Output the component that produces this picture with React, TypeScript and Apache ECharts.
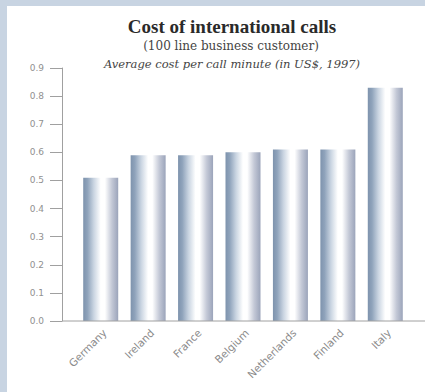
import React, { useEffect, useRef } from "react";
import * as echarts from "echarts";

const categories = ["Germany", "Ireland", "France", "Belgium", "Netherlands", "Finland", "Italy"];
const costs = [0.51, 0.59, 0.59, 0.6, 0.61, 0.61, 0.83];
const titleText = "Cost of international calls";
const subtitleText = "(100 line business customer)";
const noteText = "Average cost per call minute (in US$, 1997)";

export default function App() {
  const ref = useRef<HTMLDivElement>(null);
  useEffect(() => {
    const chart = echarts.init(ref.current!, null, { renderer: "svg" });
    const barGradient = new echarts.graphic.LinearGradient(0, 0, 1, 0, [
      { offset: 0, color: "#7e93ad" },
      { offset: 0.12, color: "#8fa3bb" },
      { offset: 0.3, color: "#c9d4e1" },
      { offset: 0.5, color: "#ffffff" },
      { offset: 0.62, color: "#ffffff" },
      { offset: 0.82, color: "#c3c8d6" },
      { offset: 1, color: "#9ba4ba" },
    ]);
    chart.setOption({
      animation: false,
      backgroundColor: "#c8d4e2",
      grid: { left: 77, right: 16, top: 68, bottom: 71 },
      graphic: [
        { type: "rect", z: -10, silent: true, shape: { x: 7, y: 6, width: 425, height: 392 }, style: { fill: "#ffffff" } },
        { type: "text", x: 232, y: 26, style: { text: titleText, fontFamily: "Liberation Serif", fontWeight: "bold", fontSize: 19, fill: "#2a2a2a", align: "center", verticalAlign: "middle" } },
        { type: "text", x: 231, y: 46, style: { text: subtitleText, fontFamily: "DejaVu Serif", fontSize: 12, fill: "#444", align: "center", verticalAlign: "middle" } },
        { type: "text", x: 232, y: 64, style: { text: noteText, fontFamily: "DejaVu Serif", fontStyle: "italic", fontSize: 11.5, fill: "#444", align: "center", verticalAlign: "middle" } },
        { type: "line", z: 10, shape: { x1: 62, y1: 321, x2: 425, y2: 321 }, style: { stroke: "#a0a0a0", lineWidth: 1 } },
      ],
      xAxis: {
        type: "category",
        data: categories,
        axisLine: { show: false },
        axisTick: { show: false },
        axisLabel: { rotate: 45, margin: 6, verticalAlign: "top", fontSize: 10.5, color: "#8a8a8a", fontFamily: "DejaVu Sans" },
      },
      yAxis: {
        type: "value",
        min: 0,
        max: 0.9,
        interval: 0.1,
        offset: 15,
        splitLine: { show: false },
        axisLine: { show: true, lineStyle: { color: "#a0a0a0" } },
        axisTick: { show: true, length: 12, lineStyle: { color: "#a0a0a0" } },
        axisLabel: { margin: 18, fontSize: 9, color: "#909090", fontFamily: "DejaVu Sans", formatter: (v: number) => v.toFixed(1) },
      },
      series: [
        {
          type: "bar",
          data: costs,
          barWidth: 35,
          itemStyle: { color: barGradient },
        },
      ],
    });
    return () => chart.dispose();
  }, []);
  return <div ref={ref} style={{ position: "fixed", left: 0, top: 0, width: 425, height: 392 }} />;
}
